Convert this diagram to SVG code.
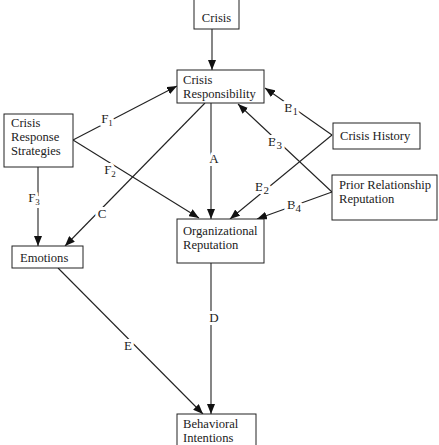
<svg xmlns="http://www.w3.org/2000/svg" width="439" height="445" viewBox="0 0 439 445">
<style>
.box{fill:#fff;stroke:#222;stroke-width:1}
.t{font-family:"Liberation Serif",serif;font-size:12.6px;fill:#222}
.c line{stroke:#222;stroke-width:1.1;fill:none}
.lbl{font-family:"Liberation Serif",serif;font-size:13px;fill:#222;stroke:#fff;stroke-width:6px;paint-order:stroke;stroke-linejoin:round;text-anchor:middle}
</style>
<defs>
<marker id="ah" viewBox="0 0 10 8" refX="10" refY="4" markerWidth="10" markerHeight="8" markerUnits="userSpaceOnUse" orient="auto">
<path d="M0,0 L10,4 L0,8 z" fill="#111"/>
</marker>
</defs>
<rect width="439" height="445" fill="#fff"/>
<g class="c">
<line x1="212" y1="29" x2="212" y2="70" marker-end="url(#ah)"/>
<line x1="73" y1="140" x2="177" y2="86" marker-end="url(#ah)"/>
<line x1="73" y1="140" x2="199" y2="218" marker-end="url(#ah)"/>
<line x1="38" y1="167" x2="38" y2="246" marker-end="url(#ah)"/>
<line x1="205" y1="103" x2="65" y2="246" marker-end="url(#ah)"/>
<line x1="211" y1="103" x2="211" y2="219" marker-end="url(#ah)"/>
<line x1="332" y1="135" x2="265" y2="88" marker-end="url(#ah)"/>
<line x1="332" y1="135" x2="230" y2="219" marker-end="url(#ah)"/>
<line x1="332" y1="192" x2="238" y2="104" marker-end="url(#ah)"/>
<line x1="332" y1="192" x2="257" y2="219" marker-end="url(#ah)"/>
<line x1="211" y1="263" x2="211" y2="414" marker-end="url(#ah)"/>
<line x1="58" y1="268" x2="203" y2="414" marker-end="url(#ah)"/>
<text class="lbl" x="107" y="123">F<tspan font-size="9" dy="3">1</tspan></text>
<text class="lbl" x="110" y="174">F<tspan font-size="9" dy="3">2</tspan></text>
<text class="lbl" x="34" y="202">F<tspan font-size="9" dy="3">3</tspan></text>
<text class="lbl" x="102" y="218">C</text>
<text class="lbl" x="214" y="163">A</text>
<text class="lbl" x="291" y="112">B<tspan font-size="10" dy="3">1</tspan></text>
<text class="lbl" x="275" y="146">B<tspan font-size="11" dy="3">3</tspan></text>
<text class="lbl" x="262" y="191">B<tspan font-size="11" dy="3">2</tspan></text>
<text class="lbl" x="294" y="209">B<tspan font-size="11" dy="3">4</tspan></text>
<text class="lbl" x="214" y="322">D</text>
<text class="lbl" x="128" y="350">E</text>
</g>
<g id="crisis"><rect class="box" x="194" y="-2" width="45" height="31"/><text class="t" x="216.5" y="22" text-anchor="middle">Crisis</text></g>
<g id="crisis-responsibility"><rect class="box" x="177" y="70" width="87" height="33"/><text class="t" x="183" y="84">Crisis</text><text class="t" x="183" y="98">Responsibility</text></g>
<g id="crisis-response-strategies"><rect class="box" x="4" y="114" width="69" height="53"/><text class="t" x="11" y="127">Crisis</text><text class="t" x="11" y="141">Response</text><text class="t" x="11" y="155">Strategies</text></g>
<g id="emotions"><rect class="box" x="12" y="246" width="71" height="22"/><text class="t" x="20" y="262">Emotions</text></g>
<g id="organizational-reputation"><rect class="box" x="177" y="219" width="87" height="44"/><text class="t" x="183" y="235">Organizational</text><text class="t" x="183" y="249">Reputation</text></g>
<g id="crisis-history"><rect class="box" x="333" y="123" width="87" height="26"/><text class="t" x="340" y="140">Crisis History</text></g>
<g id="prior-relationship"><rect class="box" x="332" y="175" width="105" height="45"/><text class="t" x="339" y="189">Prior Relationship</text><text class="t" x="339" y="203">Reputation</text></g>
<g id="behavioral-intentions"><rect class="box" x="177" y="414" width="79" height="36"/><text class="t" x="183" y="428">Behavioral</text><text class="t" x="183" y="442">Intentions</text></g>
</svg>
